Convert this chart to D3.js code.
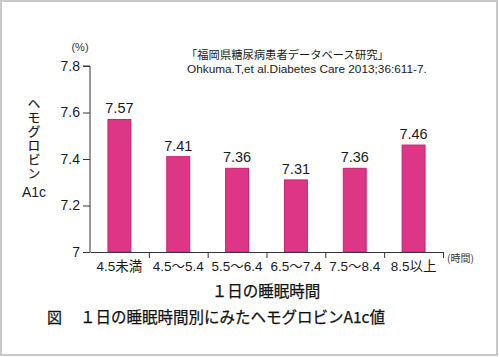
<!DOCTYPE html>
<html><head><meta charset="utf-8">
<script src="https://cdn.jsdelivr.net/npm/d3@7"></script>
<style>
html,body{margin:0;padding:0;background:#fff;}
svg{display:block;font-family:"Liberation Sans","Noto Sans CJK JP",sans-serif;}
</style></head>
<body>
<svg id="chart" width="499" height="357"></svg>
<script>
const categories = ["4.5未満","4.5～5.4","5.5～6.4","6.5～7.4","7.5～8.4","8.5以上"];
const values = [7.57, 7.41, 7.36, 7.31, 7.36, 7.46];
const yTicks = [7, 7.2, 7.4, 7.6, 7.8];
const yTickLabels = ["7","7.2","7.4","7.6","7.8"];
const valueLabels = ["7.57","7.41","7.36","7.31","7.36","7.46"];

const svg = d3.select("#chart");
const W = 499, H = 357;
const cjk = '"Noto Sans CJK JP","Liberation Sans",sans-serif';

// frame
svg.append("rect").attr("x",1).attr("y",1).attr("width",W-3).attr("height",H-3)
  .attr("fill","#fff").attr("stroke","#c9c9c9").attr("stroke-width",2);

const x0 = 90, x1 = 443, yBase = 252, yTop = 66;
const x = d3.scaleBand().domain(categories).range([x0,x1]).paddingInner(0.61).paddingOuter(0.305);
const y = d3.scaleLinear().domain([7,7.8]).range([yBase,yTop]);

// bars
svg.append("g").selectAll("rect").data(values).join("rect")
  .attr("x",(d,i)=>x(categories[i]))
  .attr("y",d=>y(d))
  .attr("width",x.bandwidth())
  .attr("height",d=>yBase-y(d))
  .attr("fill","#de3686")
  .attr("stroke","#c6246e").attr("stroke-width",1);

// value labels
svg.append("g").selectAll("text").data(values).join("text")
  .attr("x",(d,i)=>x(categories[i])+x.bandwidth()/2)
  .attr("y",d=>y(d)-6)
  .attr("text-anchor","middle")
  .attr("font-size",14.5).attr("fill","#1a1a1a")
  .text((d,i)=>valueLabels[i]);

// y axis
const yAxis = d3.axisLeft(y).tickValues(yTicks).tickFormat((d,i)=>yTickLabels[i]).tickSize(7).tickPadding(3);
const gy = svg.append("g").attr("transform",`translate(${x0},0)`).call(yAxis);
gy.select(".domain").attr("d",`M-7,${yTop}H0V${yBase}`).attr("stroke","#333");
gy.selectAll(".tick line").attr("stroke","#333");
gy.selectAll(".tick text").attr("font-size",14).attr("fill","#1a1a1a")
  .attr("font-family","Liberation Sans, sans-serif");

// x axis: ticks at band boundaries
const idx = d3.scaleLinear().domain([0,categories.length]).range([x0,x1]);
const xAxis = d3.axisBottom(idx).tickValues(d3.range(1,categories.length+1)).tickFormat("").tickSize(6).tickSizeOuter(0);
const gx = svg.append("g").attr("transform",`translate(0,${yBase})`).call(xAxis);
gx.select(".domain").attr("stroke","#333");
gx.selectAll(".tick line").attr("stroke","#333");

// category labels
svg.append("g").selectAll("text").data(categories).join("text")
  .attr("x",d=>x(d)+x.bandwidth()/2)
  .attr("y",yBase+19)
  .attr("text-anchor","middle")
  .attr("font-size",13.5).attr("fill","#1a1a1a")
  .text(d=>d);

// units
svg.append("text").attr("x",447).attr("y",yBase+10).attr("font-size",10).attr("fill","#333")
  .attr("font-family",cjk).text("(時間)");
svg.append("text").attr("x",80).attr("y",51).attr("text-anchor","middle").attr("font-size",11).attr("fill","#333")
  .text("(%)");

// x axis title
svg.append("text").attr("x",266).attr("y",297).attr("text-anchor","middle")
  .attr("font-size",15.5).attr("font-family",cjk).attr("fill","#111")
  .attr("stroke","#111").attr("stroke-width",0.25)
  .text("１日の睡眠時間");

// y axis title (vertical)
svg.append("text").attr("x",34).attr("y",97)
  .attr("style","writing-mode:vertical-rl;text-orientation:upright;letter-spacing:1px")
  .attr("font-size",13).attr("font-family",cjk).attr("fill","#1a1a1a")
  .attr("stroke","#1a1a1a").attr("stroke-width",0.2)
  .text("ヘモグロビン");
svg.append("text").attr("x",34).attr("y",197).attr("text-anchor","middle")
  .attr("font-size",14).attr("font-family","'Liberation Sans Narrow', 'Liberation Sans', sans-serif").attr("fill","#1a1a1a")
  .text("A1c");

// source
svg.append("text").attr("x",186).attr("y",59).attr("font-size",11.3).attr("font-family",cjk).attr("fill","#1a1a1a")
  .text("「福岡県糖尿病患者データベース研究」");
svg.append("text").attr("x",187).attr("y",73).attr("font-size",11.8).attr("fill","#1a1a1a")
  .text("Ohkuma.T,et al.Diabetes Care 2013;36:611-7.");

// figure caption
svg.append("text").attr("x",47).attr("y",323).attr("font-size",15).attr("font-family",cjk).attr("fill","#111")
  .attr("stroke","#111").attr("stroke-width",0.25).text("図");
svg.append("text").attr("x",80).attr("y",323).attr("font-size",15.5).attr("font-family",cjk).attr("fill","#111")
  .attr("stroke","#111").attr("stroke-width",0.25).text("１日の睡眠時間別にみたヘモグロビンA1c値");
</script>
</body></html>
